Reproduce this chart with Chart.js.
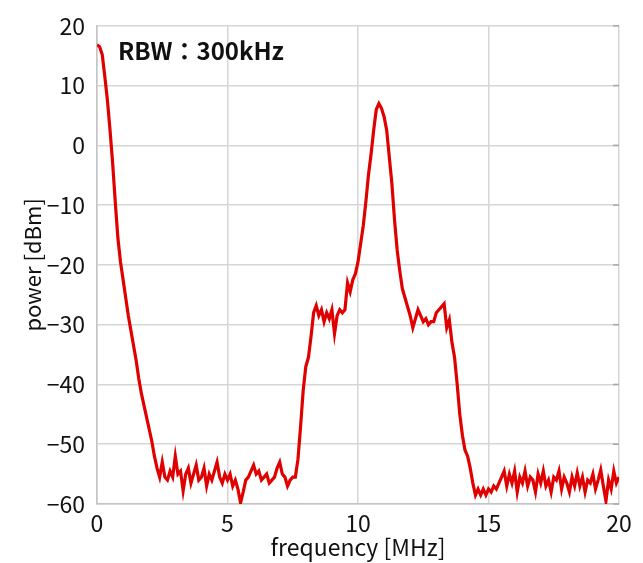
<!DOCTYPE html>
<html>
<head>
<meta charset="utf-8">
<script src="https://cdn.jsdelivr.net/npm/chart.js@4/dist/chart.umd.min.js"></script>
<style>
  html, body { margin: 0; padding: 0; background: #ffffff; }
  #wrap { width: 643px; height: 563px; position: relative; }
</style>
</head>
<body>
<div id="wrap"><canvas id="spectrumChart"></canvas></div>
<script>
// Spectrum data, 0.1 MHz steps
const freqMHz = [];
for (let i = 0; i <= 200; i++) freqMHz.push(i / 10);

const powerDbm = [
  16.8, 16.5, 15.2, 11.5, 7.5, 2.5, -3, -9.5, -15.5, -19.5,
  -22.5, -25.5, -28.5, -31, -33.5, -36, -39, -41.5, -43.5, -45.5,
  -47.5, -49.5, -52, -54, -55.5, -53, -55.5, -56, -54.5, -55.5,
  -52, -55, -54.5, -57.8, -55, -54, -56.5, -55, -53.5, -56,
  -55.5, -54, -57, -55, -56, -54.5, -53, -55.5, -56.5, -55,
  -56, -55, -57, -56, -57.5, -59.8, -58, -56, -55.5, -54.5,
  -53.5, -55, -54.5, -56, -55.5, -55, -56.5, -56, -55.5, -54,
  -53, -55, -55.5, -57, -56, -55.5, -55.5, -52.5, -47, -41,
  -37, -35.5, -32, -28, -26.8, -28.5, -27.5, -29.5, -28, -29,
  -27.5, -31.5, -28.5, -27.5, -28, -27.5, -23, -24.5, -22.5, -21.5,
  -19.5, -16.5, -13.5, -9.5, -5, -1.5, 2.5, 6, 7, 6.2,
  4.8, 2.5, -2, -6.5, -12.5, -17.5, -21, -24, -25.5, -27,
  -28.5, -30.5, -29, -27.5, -28.5, -29.5, -29, -30, -29.5, -29.5,
  -28, -27.5, -27, -26.5, -30.5, -29.2, -33, -35.5, -40, -45,
  -48.5, -51, -52, -54, -56.5, -58.5, -57.5, -58.5, -57.5, -58.5,
  -57.5, -58, -57, -57.5, -56.5, -55.5, -54.5, -57, -55, -56.5,
  -54.5, -58, -55.5, -56.5, -54.5, -57, -55.5, -56, -58, -55,
  -56.5, -54.5, -57, -56, -58, -55.5, -56, -54.5, -57.5, -55.5,
  -56.5, -58, -55.5, -57, -54.8, -57, -55.5, -58, -56, -56.5,
  -55, -57.5, -56, -54.3, -57, -59.5, -56, -57.5, -54.5, -56.5,
  -55.5
];

const xTicks = [0, 5, 10, 15, 20];
const yTicks = [-60, -50, -40, -30, -20, -10, 0, 10, 20];

const points = freqMHz.map((f, i) => ({ x: f, y: powerDbm[i] }));

const FONT = '"Noto Sans CJK JP", "Noto Sans", sans-serif';
const gridColor = "#d6d6d6";

// RBW annotation + small inward ticks on the right edge
const extras = {
  id: "extras",
  afterDraw(chart) {
    const ctx = chart.ctx;
    const area = chart.chartArea;
    const y = chart.scales.y;
    ctx.save();
    ctx.strokeStyle = "#a8a8a8";
    ctx.lineWidth = 1.5;
    yTicks.forEach((v) => {
      const py = y.getPixelForValue(v);
      ctx.beginPath();
      ctx.moveTo(area.right - 6, py);
      ctx.lineTo(area.right, py);
      ctx.stroke();
    });
    ctx.font = "bold 24px " + FONT;
    ctx.fillStyle = "#111111";
    ctx.textBaseline = "middle";
    ctx.textAlign = "left";
    ctx.fillText("RBW：300kHz", 118, 51);
    ctx.restore();
  },
};

new Chart(document.getElementById("spectrumChart"), {
  type: "line",
  data: {
    datasets: [
      {
        data: points,
        borderColor: "#e00000",
        borderWidth: 3.2,
        pointRadius: 0,
        tension: 0,
        fill: false,
      },
    ],
  },
  options: {
    responsive: true,
    maintainAspectRatio: false,
    animation: false,
    layout: { padding: { top: 23, right: 24, left: 0, bottom: 0 } },
    plugins: {
      legend: { display: false },
      tooltip: { enabled: false },
    },
    scales: {
      x: {
        type: "linear",
        min: 0,
        max: 20,
        afterFit: (scale) => { scale.height = 59; },
        afterBuildTicks: (scale) => { scale.ticks = xTicks.map((v) => ({ value: v })); },
        grid: { color: gridColor, lineWidth: 1.5, drawTicks: false },
        border: { color: "#c4c4c4", width: 1.5 },
        ticks: { color: "#111111", padding: 5, font: { family: FONT, size: 23 } },
        title: {
          display: true,
          text: "frequency [MHz]",
          color: "#111111",
          padding: { top: 0, bottom: 2 },
          font: { family: FONT, size: 23 },
        },
      },
      y: {
        min: -60,
        max: 20,
        afterFit: (scale) => { scale.width = 97; },
        afterBuildTicks: (scale) => { scale.ticks = yTicks.map((v) => ({ value: v })); },
        grid: { color: gridColor, lineWidth: 1.5, drawTicks: false },
        border: { color: "#c4c4c4", width: 1.5 },
        ticks: {
          color: "#111111",
          padding: 12,
          font: { family: FONT, size: 23 },
          callback: (v) => (v < 0 ? "\u2212" + Math.abs(v) : String(v)),
        },
        title: {
          display: true,
          text: "power [dBm]",
          color: "#111111",
          padding: { top: 19, bottom: 0 },
          font: { family: FONT, size: 22 },
        },
      },
    },
  },
  plugins: [extras],
});
</script>
</body>
</html>
